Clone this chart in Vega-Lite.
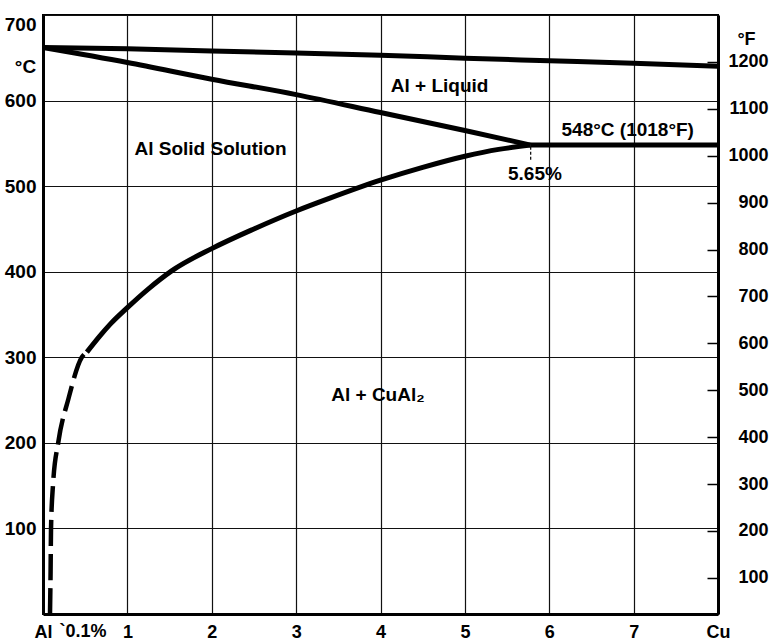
{
  "$schema": "https://vega.github.io/schema/vega-lite/v6.json",
  "width": 675,
  "height": 599,
  "autosize": {"type": "none"},
  "padding": {"left": 43, "top": 15, "right": 55, "bottom": 28},
  "background": "white",
  "config": {
    "view": {"stroke": "black", "strokeWidth": 2},
    "font": "Liberation Sans",
    "axis": {
      "labelFont": "Liberation Sans",
      "labelFontWeight": "bold",
      "labelColor": "black",
      "titleFont": "Liberation Sans",
      "titleFontWeight": "bold",
      "titleColor": "black",
      "domainColor": "black",
      "tickColor": "black",
      "gridColor": "#111111",
      "gridOpacity": 1
    }
  },
  "datasets": {
    "curves": [
      {"curve": "liquidus", "x": 0, "t": 662},
      {"curve": "liquidus", "x": 1, "t": 660.5},
      {"curve": "liquidus", "x": 2, "t": 658},
      {"curve": "liquidus", "x": 3, "t": 655.5},
      {"curve": "liquidus", "x": 4, "t": 653},
      {"curve": "liquidus", "x": 5, "t": 649.5},
      {"curve": "liquidus", "x": 6, "t": 646.5},
      {"curve": "liquidus", "x": 7, "t": 643.5},
      {"curve": "liquidus", "x": 8, "t": 640},
      {"curve": "solidus", "x": 0, "t": 662},
      {"curve": "solidus", "x": 1, "t": 644.5},
      {"curve": "solidus", "x": 2, "t": 625},
      {"curve": "solidus", "x": 3, "t": 607},
      {"curve": "solidus", "x": 4, "t": 586},
      {"curve": "solidus", "x": 5, "t": 565},
      {"curve": "solidus", "x": 5.78, "t": 548},
      {"curve": "eutectic", "x": 5.78, "t": 548},
      {"curve": "eutectic", "x": 8, "t": 548},
      {"curve": "solvus", "x": 0.52, "t": 306},
      {"curve": "solvus", "x": 0.675, "t": 325},
      {"curve": "solvus", "x": 0.8, "t": 339},
      {"curve": "solvus", "x": 1, "t": 358},
      {"curve": "solvus", "x": 1.25, "t": 380},
      {"curve": "solvus", "x": 1.525, "t": 401},
      {"curve": "solvus", "x": 2, "t": 427},
      {"curve": "solvus", "x": 2.5, "t": 450},
      {"curve": "solvus", "x": 3, "t": 471},
      {"curve": "solvus", "x": 3.4, "t": 486},
      {"curve": "solvus", "x": 4, "t": 507},
      {"curve": "solvus", "x": 4.5, "t": 522},
      {"curve": "solvus", "x": 5, "t": 535},
      {"curve": "solvus", "x": 5.4, "t": 543},
      {"curve": "solvus", "x": 5.78, "t": 548}
    ],
    "dashed": [
      {"x": 0.083, "t": 0},
      {"x": 0.09, "t": 50},
      {"x": 0.095, "t": 100},
      {"x": 0.12, "t": 153},
      {"x": 0.18, "t": 200},
      {"x": 0.3, "t": 251},
      {"x": 0.46, "t": 300},
      {"x": 0.52, "t": 306}
    ],
    "marker": [{"x": 5.78, "t": 546, "t2": 530}],
    "labels": [
      {"x": 4.7, "t": 617, "text": "Al + Liquid"},
      {"x": 1.985, "t": 543, "text": "Al  Solid  Solution"},
      {"x": 6.93, "t": 565.5, "text": "548°C (1018°F)"},
      {"x": 5.83, "t": 514.6, "text": "5.65%"},
      {"x": 3.97, "t": 256, "text": "Al + CuAl₂"}
    ],
    "note": [{"x": 0.1, "t": 0, "text": "`0.1%"}],
    "fscale": [{"F": 23}, {"F": 1300}]
  },
  "layer": [
    {
      "encoding": {
        "x": {
          "field": "x",
          "type": "quantitative",
          "scale": {"domain": [0, 8], "nice": false, "zero": false},
          "axis": {
            "values": [0, 1, 2, 3, 4, 5, 6, 7, 8],
            "labelExpr": "datum.value==0?'Al':datum.value==8?'Cu':datum.label",
            "grid": true,
            "gridWidth": 1.2,
            "ticks": false,
            "domainWidth": 3,
            "labelFontSize": 18,
            "labelPadding": 9,
            "labelFlush": false,
            "title": null
          }
        },
        "y": {
          "field": "t",
          "type": "quantitative",
          "scale": {"domain": [0, 700], "nice": false},
          "axis": {
            "orient": "left",
            "values": [100, 200, 300, 400, 500, 600, 700],
            "grid": true,
            "gridWidth": 1.2,
            "ticks": false,
            "domainWidth": 3,
            "labelFontSize": 19,
            "labelPadding": 7,
            "labelFlush": true,
            "title": "°C",
            "titleAngle": 0,
            "titleAlign": "center",
            "titleBaseline": "middle",
            "titleX": -18,
            "titleY": 51,
            "titleFontSize": 19
          }
        }
      },
      "layer": [
        {
          "data": {"name": "curves"},
          "mark": {"type": "line", "color": "black", "strokeWidth": 5, "interpolate": "monotone"},
          "encoding": {"detail": {"field": "curve"}}
        },
        {
          "data": {"name": "dashed"},
          "mark": {"type": "line", "color": "black", "strokeWidth": 4.5, "interpolate": "monotone", "strokeDash": [26, 8]}
        },
        {
          "data": {"name": "marker"},
          "mark": {"type": "rule", "color": "black", "strokeWidth": 1.2, "strokeDash": [3, 2]},
          "encoding": {"y2": {"field": "t2"}}
        },
        {
          "data": {"name": "labels"},
          "mark": {"type": "text", "font": "Liberation Sans", "fontWeight": "bold", "fontSize": 19, "color": "black"},
          "encoding": {"text": {"field": "text"}}
        },
        {
          "data": {"name": "note"},
          "mark": {"type": "text", "font": "Liberation Sans", "fontWeight": "bold", "fontSize": 18, "color": "black", "align": "left", "baseline": "top", "dx": 8, "dy": 9},
          "encoding": {"text": {"field": "text"}}
        }
      ]
    },
    {
      "data": {"name": "fscale"},
      "mark": {"type": "point", "opacity": 0},
      "encoding": {
        "y": {
          "field": "F",
          "type": "quantitative",
          "scale": {"domain": [23, 1300], "nice": false, "zero": false},
          "axis": {
            "orient": "right",
            "values": [100, 200, 300, 400, 500, 600, 700, 800, 900, 1000, 1100, 1200],
            "format": "d",
            "grid": false,
            "ticks": true,
            "tickSize": -11,
            "tickWidth": 1.5,
            "domainWidth": 3,
            "labelFontSize": 18,
            "labelAlign": "right",
            "labelPadding": 61,
            "title": "°F",
            "titleAngle": 0,
            "titleAlign": "center",
            "titleBaseline": "middle",
            "titleX": 28,
            "titleY": 24,
            "titleFontSize": 18
          }
        }
      }
    }
  ],
  "resolve": {"scale": {"y": "independent"}}
}
